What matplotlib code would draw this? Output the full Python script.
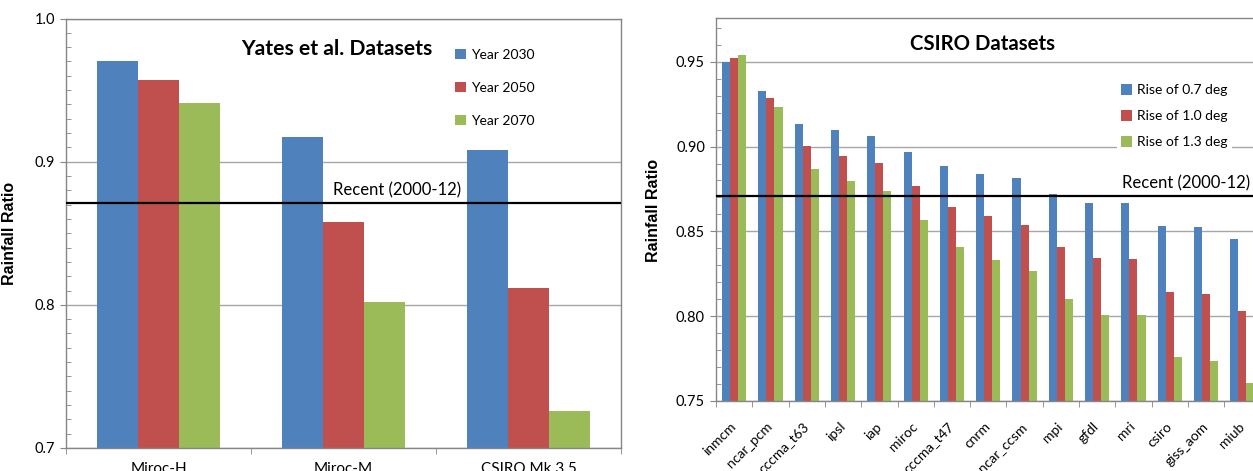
import matplotlib
matplotlib.use("Agg")
import matplotlib.pyplot as plt
import numpy as np
from matplotlib.ticker import MultipleLocator, FixedLocator

# ---------------- data ----------------
yates_models = ["Miroc-H", "Miroc-M", "CSIRO Mk 3.5"]
yates_2030 = [0.9705, 0.917, 0.908]
yates_2050 = [0.957, 0.858, 0.8115]
yates_2070 = [0.941, 0.802, 0.726]
yates_labels = ["Year 2030", "Year 2050", "Year 2070"]

csiro_models = ["inmcm", "ncar_pcm", "cccma_t63", "ipsl", "iap", "miroc",
                "cccma_t47", "cnrm", "ncar_ccsm", "mpi", "gfdl", "mri",
                "csiro", "giss_aom", "miub"]
rise_07 = [0.950, 0.933, 0.9134, 0.9095, 0.9065, 0.8967, 0.8888, 0.8841,
           0.8812, 0.8721, 0.867, 0.867, 0.8534, 0.8525, 0.8456]
rise_10 = [0.952, 0.9284, 0.9002, 0.8945, 0.8904, 0.8767, 0.8645, 0.8588,
           0.8536, 0.8409, 0.8342, 0.8336, 0.8145, 0.8133, 0.8031]
rise_13 = [0.9537, 0.9233, 0.8865, 0.8794, 0.8737, 0.8566, 0.8405, 0.833,
           0.8267, 0.810, 0.8009, 0.8009, 0.7762, 0.7738, 0.7604]
csiro_labels = ["Rise of 0.7 deg", "Rise of 1.0 deg", "Rise of 1.3 deg"]

recent = 0.871
recent_label = "Recent (2000-12)"

# ---------------- style ----------------
BLUE, RED, GREEN = "#4F81BD", "#C0504D", "#9BBB59"
SPINE = "#868686"
GRID = "#A6A6A6"
FONT = ["Lato", "DejaVu Sans"]
LABFONT = ["Liberation Sans", "DejaVu Sans"]
plt.rcParams["font.family"] = FONT

W, H = 1253, 471
fig = plt.figure(figsize=(W / 100, H / 100), dpi=100)


def style_axes(ax):
    for s in ax.spines.values():
        s.set_color(SPINE)
        s.set_linewidth(1.0)
    ax.tick_params(axis="y", which="major", length=4, color=SPINE, labelsize=10.5,
                   pad=4, direction="out")
    ax.tick_params(axis="y", which="minor", length=3.5, color=SPINE, direction="in")
    ax.tick_params(axis="x", which="major", length=0)
    ax.tick_params(axis="x", which="minor", length=4, color=SPINE, direction="out")
    ax.yaxis.grid(True, which="major", color=GRID, linewidth=1.0)
    ax.set_axisbelow(True)


# ---------------- left panel ----------------
ax1 = fig.add_axes([66 / W, 1 - 448 / H, (621 - 66) / W, (448 - 18.5) / H])
bw = 0.223
x = np.arange(len(yates_models))
for i, (vals, col, lab) in enumerate(zip([yates_2030, yates_2050, yates_2070],
                                         [BLUE, RED, GREEN], yates_labels)):
    ax1.bar(x + (i - 1) * bw, np.array(vals) - 0.7, bottom=0.7, width=bw,
            color=col, label=lab, zorder=2)
ax1.set_xlim(-0.5, len(yates_models) - 0.5)
ax1.set_ylim(0.7, 1.0)
ax1.yaxis.set_major_locator(MultipleLocator(0.1))
ax1.yaxis.set_minor_locator(MultipleLocator(0.01))
ax1.yaxis.set_major_formatter(plt.FuncFormatter(lambda v, p: f"{v:.1f}"))
ax1.set_xticks(x)
ax1.set_xticklabels(yates_models, fontsize=11)
ax1.xaxis.set_minor_locator(FixedLocator(np.arange(-0.5, len(yates_models), 1.0)))
style_axes(ax1)
ax1.tick_params(axis="x", which="major", pad=10)
ax1.axhline(recent, color="black", linewidth=1.6, zorder=3)
ax1.text((333 - 66) / (621 - 66), recent + 0.003, recent_label,
         transform=ax1.get_yaxis_transform(), fontsize=12, va="bottom", ha="left")
ax1.text(337 / W, 1 - 49 / H, "Yates et al. Datasets", transform=fig.transFigure,
         fontsize=15.2, fontweight="bold", ha="center", va="center")
ax1.set_ylabel("Rainfall Ratio", family=LABFONT, fontsize=11.5, fontweight="bold")
ax1.yaxis.set_label_coords(17 / W, 1 - 233 / H, transform=fig.transFigure)
leg1 = ax1.legend(loc="upper left", bbox_to_anchor=(445 / W, 1 - 39 / H),
                  bbox_transform=fig.transFigure, frameon=False, fontsize=10,
                  handlelength=0.8, handleheight=0.8, handletextpad=0.35,
                  labelspacing=1.5, borderpad=0.2)

# ---------------- right panel ----------------
sp = 36.3
n = len(csiro_models)
ax2 = fig.add_axes([716 / W, 1 - 401 / H, n * sp / W, (401 - 18.3) / H])
bw2 = 0.222
x2 = np.arange(n)
for i, (vals, col, lab) in enumerate(zip([rise_07, rise_10, rise_13],
                                         [BLUE, RED, GREEN], csiro_labels)):
    ax2.bar(x2 + (i - 1) * bw2, np.array(vals) - 0.75, bottom=0.75, width=bw2,
            color=col, label=lab, zorder=2)
ax2.set_xlim(-0.5, n - 0.5)
ax2.set_ylim(0.75, 0.9756)
ax2.yaxis.set_major_locator(FixedLocator([0.75, 0.80, 0.85, 0.90, 0.95]))
ax2.yaxis.set_minor_locator(MultipleLocator(0.01))
ax2.yaxis.set_major_formatter(plt.FuncFormatter(lambda v, p: f"{v:.2f}"))
ax2.set_xticks(x2)
ax2.set_xticklabels(csiro_models, fontsize=10, rotation=45, ha="right",
                    va="center", rotation_mode="anchor")
ax2.xaxis.set_minor_locator(FixedLocator(np.arange(-0.5, n, 1.0)))
style_axes(ax2)
ax2.tick_params(axis="x", which="major", pad=17)
ax2.axhline(recent, color="black", linewidth=1.6, zorder=3)
ax2.text((1122 - 716) / (n * sp), recent + 0.0025, recent_label,
         transform=ax2.get_yaxis_transform(), fontsize=12, va="bottom", ha="left")
ax2.text(983 / W, 1 - 44 / H, "CSIRO Datasets", transform=fig.transFigure,
         fontsize=14.7, fontweight="bold", ha="center", va="center")
ax2.set_ylabel("Rainfall Ratio", family=LABFONT, fontsize=11.5, fontweight="bold")
ax2.yaxis.set_label_coords(661 / W, 1 - 210 / H, transform=fig.transFigure)
leg2 = ax2.legend(loc="upper left", bbox_to_anchor=(1110 / W, 1 - 73 / H),
                  bbox_transform=fig.transFigure, frameon=True, fontsize=10,
                  handlelength=0.8, handleheight=0.8, handletextpad=0.35,
                  labelspacing=1.0, borderpad=0.3, fancybox=False)
leg2.get_frame().set_edgecolor("none")
leg2.get_frame().set_facecolor("white")
leg2.get_frame().set_alpha(1.0)
leg2.set_zorder(4)

fig.savefig("out.png", dpi=100)
